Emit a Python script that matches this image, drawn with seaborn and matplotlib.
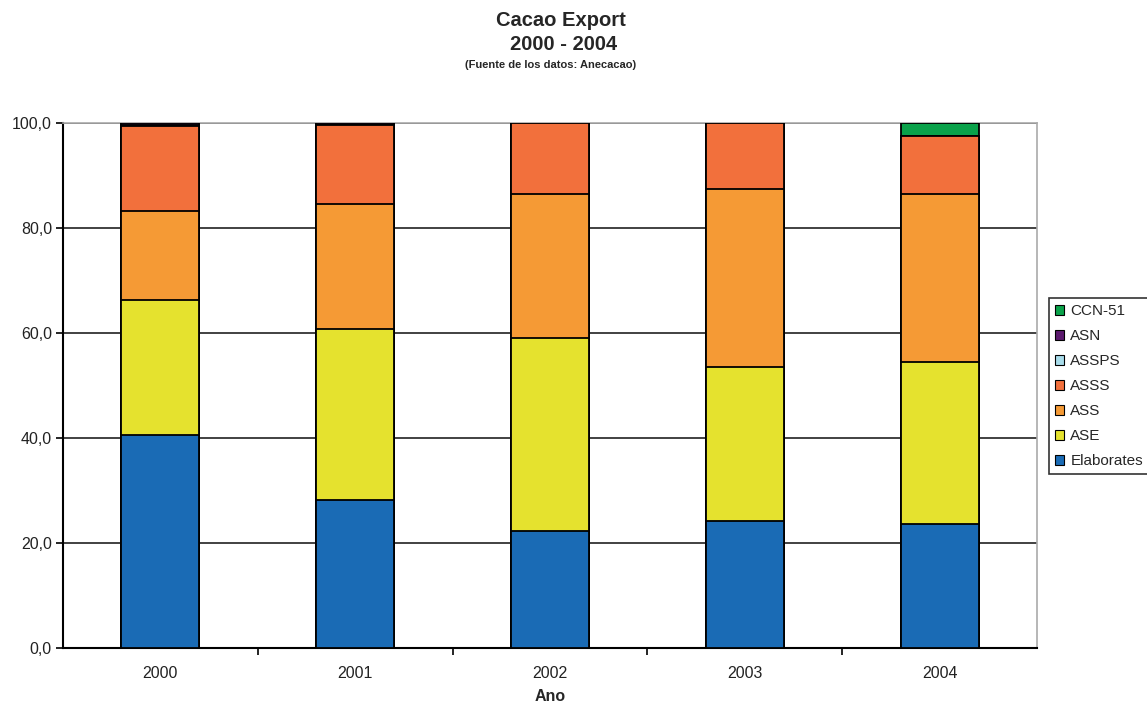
import matplotlib
matplotlib.use("Agg")
import matplotlib.pyplot as plt
from matplotlib.patches import Patch
from matplotlib.ticker import FuncFormatter, FixedLocator
import seaborn as sns
import pandas as pd
import numpy as np

years = ["2000", "2001", "2002", "2003", "2004"]
elaborates = [40.6, 28.2, 22.2, 24.1, 23.7]
ase = [25.6, 32.6, 36.8, 29.5, 30.8]
ass = [17.0, 23.8, 27.4, 33.8, 31.9]
asss = [16.3, 15.0, 13.6, 12.6, 11.1]
assps = [0.2, 0.1, 0.0, 0.0, 0.0]
asn = [0.3, 0.3, 0.0, 0.0, 0.0]
ccn51 = [0.0, 0.0, 0.0, 0.0, 2.5]

series_names = ["Elaborates", "ASE", "ASS", "ASSS", "ASSPS", "ASN", "CCN-51"]
series_values = [elaborates, ase, ass, asss, assps, asn, ccn51]
colors = ["#1a6bb5", "#e5e22e", "#f59a35", "#f2703c", "#a8dcea", "#5c1a6e", "#0aa24a"]

df = pd.DataFrame({name: vals for name, vals in zip(series_names, series_values)})
df["Year"] = years
cum = df[series_names].cumsum(axis=1)
cum["Year"] = years

sns.set_style("white")
plt.rcParams["font.family"] = ["Liberation Sans", "DejaVu Sans"]

fig = plt.figure(figsize=(11.47, 7.05), dpi=100)
ax = fig.add_axes([63 / 1147, 57 / 705, (1037 - 63) / 1147, (648 - 123) / 705])

# Stacked bars by overlaying cumulative sums, top series first
for name, color in reversed(list(zip(series_names, colors))):
    sns.barplot(data=cum, x="Year", y=name, order=years, color=color,
                width=0.4, edgecolor="black", linewidth=1.3, ax=ax,
                saturation=1, zorder=3)

ax.set_ylim(0, 100)
ax.set_xlim(-0.5, 4.5)
ax.set_yticks(np.arange(0, 101, 20))
ax.yaxis.set_major_formatter(FuncFormatter(lambda v, p: f"{v:.1f}".replace(".", ",")))
ax.yaxis.grid(True, color="#333333", linewidth=1.3, zorder=0)
ax.set_axisbelow(True)

ax.tick_params(axis="y", which="major", direction="out", length=5, width=1.2,
               color="black", left=True, labelsize=11.5, labelcolor="#222222", pad=3)
ax.tick_params(axis="x", which="major", length=0, labelsize=11.5, labelcolor="#222222", pad=13)
ax.xaxis.set_minor_locator(FixedLocator([0.5, 1.5, 2.5, 3.5]))
ax.tick_params(axis="x", which="minor", direction="out", length=5, width=1.2,
               color="black", bottom=True)

for side in ["left", "bottom"]:
    ax.spines[side].set_color("black")
    ax.spines[side].set_linewidth(1.5)
for side in ["top", "right"]:
    ax.spines[side].set_visible(True)
    ax.spines[side].set_color("#aaaaaa")
    ax.spines[side].set_linewidth(1.2)

ax.set_ylabel("")
ax.set_xlabel("Ano", fontsize=11.5, fontweight="bold", labelpad=6)

fig.text(561 / 1147, 1 - 20 / 705, "Cacao Export", ha="center", va="center",
         fontsize=14.5, fontweight="bold")
fig.text(564 / 1147, 1 - 44 / 705, "2000 - 2004", ha="center", va="center",
         fontsize=14.5, fontweight="bold")
fig.text(551 / 1147, 1 - 65 / 705, "(Fuente de los datos: Anecacao)", ha="center", va="center",
         fontsize=8, fontweight="bold")

handles = [Patch(facecolor=c, edgecolor="black", linewidth=0.8, label=n)
           for n, c in zip(series_names, colors)][::-1]
leg = fig.legend(handles=handles, loc="upper left", bbox_to_anchor=(1049 / 1147, 1 - 298 / 705),
                 frameon=True, fancybox=False, edgecolor="black", fontsize=11,
                 handlelength=0.6, handleheight=0.6, handletextpad=0.4,
                 labelspacing=0.72, borderpad=0.4, borderaxespad=0)
leg.get_frame().set_linewidth(1.2)

fig.savefig("out.png", dpi=100)
